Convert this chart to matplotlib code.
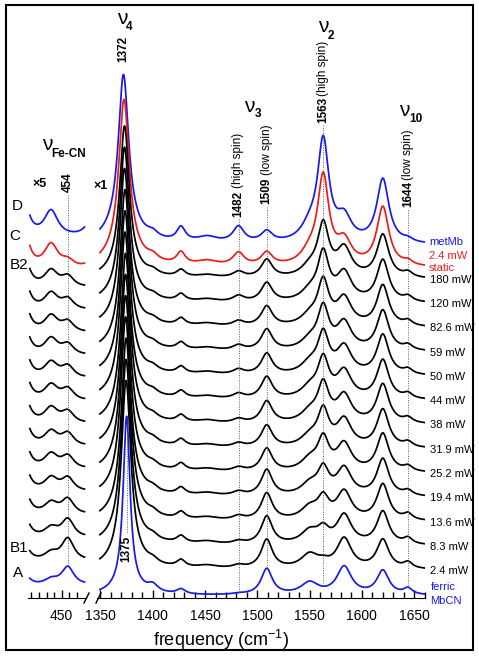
import numpy as np
import matplotlib.pyplot as plt
from matplotlib.lines import Line2D
from matplotlib.patches import Rectangle

plt.rcParams['font.family'] = ['Liberation Sans', 'DejaVu Sans']
plt.rcParams['mathtext.fontset'] = 'custom'
plt.rcParams['mathtext.rm'] = 'Liberation Sans'

# ---------------- data ----------------
# traces from top to bottom: D metMb, C 2.4 mW static, B2..B1 power series, A ferric MbCN
powers = ["180 mW", "120 mW", "82.6 mW", "59 mW", "50 mW", "44 mW", "38 mW",
          "31.9 mW", "25.2 mW", "19.4 mW", "13.6 mW", "8.3 mW", "2.4 mW"]
BLUE, RED = "#1818e8", "#ea1c1c"
colors = [BLUE, RED] + ["black"] * 13 + [BLUE]

# high-frequency region: nu4 band
nu4_pos = [1372, 1372.5, 1373, 1373, 1373, 1373.5, 1373.5, 1373.5, 1374, 1374,
           1374, 1374, 1374.5, 1374.5, 1374.5, 1375]
nu4_amp = [158, 156, 146, 149, 152, 155, 158, 161, 164, 167, 170, 173, 176, 179, 182, 174]
nu4_hw = [6, 6, 5.5, 5.5, 5.5, 5.5, 5.5, 5.5, 5.5, 5.5, 5.5, 5.5, 5.5, 5.5, 5.5, 4]
nu4_broad = [12, 12, 7, 7, 7, 7, 7, 7, 7, 7, 7, 7, 7, 7, 7, 5]

# other bands (center, half width) and intensities per trace
band_pos = [1400, 1427, 1452, 1482, 1509, 1550, 1563, 1583, 1620, 1644]
band_hw = [6, 5, 12, 6.5, 6.5, 10, 6.5, 8.5, 7, 5]
i_1400 = [5, 5, 4, 4, 4, 4, 4, 4, 4, 4, 4, 4, 4, 4, 4, 7]
i_1427 = [14, 12, 7, 7, 7, 7, 7, 7, 7, 7, 7, 7, 7, 7, 7, 5]
i_1452 = [6, 5, 3, 3, 3, 3, 3, 3, 3, 3, 3, 3, 3, 3, 3, 0]
i_1482 = [16, 13, 6, 6, 5, 5, 5, 5, 4, 4, 4, 4, 4, 3, 3, 1]
i_1509 = [11, 13, 18, 19, 20, 21, 21, 22, 22, 22, 23, 26, 27, 28, 29, 26]
i_1550 = [13, 11, 9, 9, 9, 9, 10, 10, 10, 10, 11, 11, 12, 13, 14, 12]
i_1563 = [100, 87, 51, 47, 43, 41, 39, 38, 37, 35, 31, 25, 20, 13, 4, 0]
i_1583 = [23, 23, 28, 28, 27, 27, 27, 27, 27, 27, 27, 27, 28, 29, 30, 28]
i_1620 = [64, 59, 43, 42, 41, 40, 40, 39, 39, 38, 38, 37, 36, 33, 29, 24]
i_1644 = [3, 4, 5, 5, 5, 5, 5, 5, 5, 5, 5, 5, 6, 6, 6, 6]
band_int = [i_1400, i_1427, i_1452, i_1482, i_1509, i_1550, i_1563, i_1583, i_1620, i_1644]

# low-frequency Fe-CN region (x5)
low_pos = [425, 443, 454, 470]
low_hw = [4, 5.5, 5, 5]
l_425 = [38, 42, 36, 36, 36, 35, 35, 35, 34, 34, 33, 32, 30, 26, 20, 14]
l_443 = [26, 24, 17, 17, 17, 17, 16, 16, 16, 15, 15, 14, 12, 10, 8, 6]
l_454 = [0, 7, 11, 11, 11, 11, 12, 12, 12, 13, 13, 14, 16, 19, 23, 19]
l_470 = [18, 8, 2, 2, 2, 2, 2, 2, 2, 2, 2, 2, 2, 2, 2, 2]
low_int = [l_425, l_443, l_454, l_470]


def lor(x, c, a, g):
    return a * g ** 2 / ((x - c) ** 2 + g ** 2)


def high_spectrum(x, k):
    y = lor(x, nu4_pos[k], nu4_amp[k], nu4_hw[k]) + lor(x, nu4_pos[k], nu4_broad[k], 20)
    for c, g, amps in zip(band_pos, band_hw, band_int):
        y = y + lor(x, c, amps[k], g)
    return y


def low_spectrum(x, k):
    y = np.zeros_like(x)
    for c, g, amps in zip(low_pos, low_hw, low_int):
        y = y + lor(x, c, amps[k], g)
    return y


# ---------------- layout ----------------
W, H = 479, 657
Y0 = 598  # pixel row of the frequency axis
fig = plt.figure(figsize=(W / 100, H / 100), dpi=100)


def box(x0, x1, yt, yb):
    return [x0 / W, 1 - yb / H, (x1 - x0) / W, (yb - yt) / H]


axL = fig.add_axes(box(28, 86, 10, Y0))
axR = fig.add_axes(box(97, 425, 10, Y0))
axL.set_xlim(427.8, 466.0)
axR.set_xlim(1346.7, 1660.3)
for ax in (axL, axR):
    ax.set_ylim(0, Y0 - 10)
    for s in ("top", "left", "right"):
        ax.spines[s].set_visible(False)
    ax.set_yticks([])
    ax.patch.set_alpha(0)
    ax.tick_params(axis="x", which="both", direction="in", labelsize=10, pad=8, width=1)
    ax.tick_params(axis="x", which="major", length=6)
    ax.tick_params(axis="x", which="minor", length=4)

axR.set_xticks(np.arange(1350, 1651, 50))
axR.set_xticks(np.arange(1350, 1661, 10), minor=True)
axL.set_xticks([450])
axL.set_xticks(np.arange(430, 461, 5), minor=True)

# trace end levels (pixel rows) -> vertical offsets
right_end = [242, 265] + [277 + 24.25 * i for i in range(13)] + [594]
left_end = [227, 263] + [285 + 22.67 * i for i in range(13)] + [582]

xr = np.linspace(1349.5, 1660, 1600)
xl = np.linspace(429, 465, 400)
right_off, left_off = [], []
for k in range(16):
    offr = (Y0 - right_end[k]) - high_spectrum(np.array([1660.0]), k)[0]
    offl = (Y0 - left_end[k]) - low_spectrum(np.array([465.0]), k)[0]
    right_off.append(offr)
    left_off.append(offl)
    axR.plot(xr, high_spectrum(xr, k) + offr, color=colors[k], lw=1.25)
    axL.plot(xl, low_spectrum(xl, k) + offl, color=colors[k], lw=1.25)


def curve_R(x):
    return high_spectrum(np.array([x]), 15)[0] + right_off[15]


# dotted marker lines
dot = dict(color="0.35", lw=0.7, ls=(0, (1, 1.5)))
for xv, top in [(1482, 219), (1509, 207), (1563, 125), (1644, 210)]:
    axR.plot([xv, xv], [Y0 - top, curve_R(xv)], **dot)
axR.plot([1375, 1375], [Y0 - 532, Y0 - 420], **dot)
axL.plot([454, 454], [Y0 - 195, low_spectrum(np.array([454.0]), 15)[0] + left_off[15]], **dot)

# right-hand trace labels
lab_x = 1664
axR.text(lab_x, Y0 - 242, "metMb", color=BLUE, fontsize=8, va="center", clip_on=False)
axR.text(lab_x, Y0 - 256, "2.4 mW", color=RED, fontsize=8, va="center", clip_on=False)
axR.text(lab_x, Y0 - 268, "static", color=RED, fontsize=8, va="center", clip_on=False)
for i, p in enumerate(powers):
    axR.text(lab_x + 1.5, Y0 - right_end[2 + i] - 3, p, fontsize=8, va="center", clip_on=False)
axR.text(lab_x + 1.5, Y0 - 587, "ferric", color=BLUE, fontsize=8, va="center", clip_on=False)
axR.text(lab_x + 1.5, Y0 - 601, "MbCN", color=BLUE, fontsize=8, va="center", clip_on=False)


def ftext(x, y, s, **kw):
    return fig.text(x / W, 1 - y / H, s, **kw)


# left-hand trace letters
for s, x, y in [("D", 17, 206), ("C", 15, 236), ("B2", 19, 265), ("B1", 19, 548), ("A", 18, 573)]:
    ftext(x, y, s, fontsize=11, ha="center", va="center")

# mode labels
for x, y, sub, dx, dy in [(122, 18, "4", 7, 9), (249, 106, "3", 9, 8), (323, 27, "2", 8, 9),
                          (404, 111, "10", 12, 8), (47, 145, "Fe-CN", 22, 9)]:
    ftext(x, y, "ν", fontsize=15, ha="center", va="center")
    ftext(x + dx, y + dy, sub, fontsize=8.5, fontweight="bold", ha="center", va="center")
ftext(40, 184, "×5", fontsize=9, fontweight="bold", ha="center", va="center")
ftext(101, 186, "×1", fontsize=9, fontweight="bold", ha="center", va="center")

renderer = fig.canvas.get_renderer()


def rot_label(x, yb, num, note=None, gap=2):
    t = ftext(x, yb, num, rotation=90, ha="center", va="bottom", fontsize=8.5, fontweight="bold")
    if note:
        bb = t.get_window_extent(renderer)
        fig.text(x / W, (bb.y1 + gap) / H, note, rotation=90, ha="center", va="bottom", fontsize=8.5)


rot_label(123.4, 62, "1372")
rot_label(68, 192, "454")
rot_label(126.5, 562, "1375")
rot_label(238.5, 217, "1482", "(high spin)", gap=3)
rot_label(266.7, 204, "1509", "(low spin)", gap=3)
rot_label(323.2, 123, "1563", "(high spin)", gap=1)
rot_label(407.9, 207, "1644", "(low spin)", gap=1)

ftext(221, 640, r"frequency (cm$^{\mathregular{-1}}$)", fontsize=13, ha="center", va="center")

# axis break marks
for x0 in (84, 96):
    fig.add_artist(Line2D([x0 / W, (x0 + 5) / W], [1 - 603 / H, 1 - 593 / H], color="black", lw=1))

# outer frame
fig.add_artist(Rectangle((6 / W, 1 - 650 / H), 467 / W, 645 / H, transform=fig.transFigure,
                         fill=False, lw=1.5, edgecolor="black"))

fig.savefig("out.png", dpi=100)
